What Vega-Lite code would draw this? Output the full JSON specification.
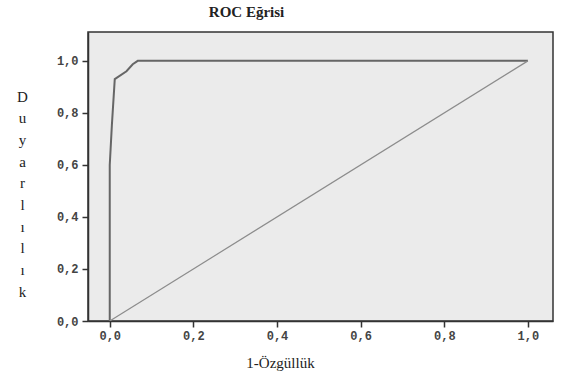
{
  "$schema": "https://vega.github.io/schema/vega-lite/v6.json",
  "autosize": {"type": "none"},
  "padding": {"left": 88, "top": 32, "right": 15, "bottom": 56},
  "width": 465,
  "height": 289,
  "background": "white",
  "title": {
    "text": "ROC Eğrisi",
    "font": "Liberation Serif",
    "fontSize": 15,
    "fontWeight": "bold",
    "color": "#222",
    "anchor": "middle",
    "dx": -74,
    "offset": 12
  },
  "config": {
    "view": {"fill": "#ebebeb", "stroke": "#333", "strokeWidth": 1.5},
    "axis": {
      "grid": false,
      "domainColor": "#333",
      "domainWidth": 1.5,
      "tickColor": "#333",
      "tickSize": 6,
      "tickWidth": 1.5,
      "labelFont": "Liberation Mono",
      "labelFontSize": 12,
      "labelFontWeight": "bold",
      "labelColor": "#444",
      "titleFont": "Liberation Serif",
      "titleFontSize": 15,
      "titleFontWeight": "normal",
      "titleColor": "#222"
    }
  },
  "data": {
    "values": [
      {"x": 0, "y": 0, "s": "roc", "o": 1},
      {"x": 0, "y": 0.6, "s": "roc", "o": 2},
      {"x": 0.005, "y": 0.75, "s": "roc", "o": 3},
      {"x": 0.012, "y": 0.93, "s": "roc", "o": 4},
      {"x": 0.04, "y": 0.96, "s": "roc", "o": 5},
      {"x": 0.055, "y": 0.987, "s": "roc", "o": 6},
      {"x": 0.067, "y": 1.0, "s": "roc", "o": 7},
      {"x": 1.0, "y": 1.0, "s": "roc", "o": 8},
      {"x": 0, "y": 0, "s": "ref", "o": 1},
      {"x": 1, "y": 1, "s": "ref", "o": 2}
    ]
  },
  "mark": {"type": "line", "clip": true},
  "encoding": {
    "x": {
      "field": "x",
      "type": "quantitative",
      "scale": {"domain": [-0.052, 1.06], "nice": false, "zero": false},
      "axis": {
        "values": [0, 0.2, 0.4, 0.6, 0.8, 1.0],
        "labelExpr": "replace(format(datum.value, '.1f'), '.', ',')",
        "labelPadding": 3,
        "title": "1-Özgüllük",
        "titleX": 192,
        "titleY": 34,
        "titleBaseline": "top",
        "titleAnchor": null
      }
    },
    "y": {
      "field": "y",
      "type": "quantitative",
      "scale": {"domain": [0, 1.111], "nice": false},
      "axis": {
        "values": [0, 0.2, 0.4, 0.6, 0.8, 1.0],
        "labelExpr": "replace(format(datum.value, '.1f'), '.', ',')",
        "labelPadding": 4,
        "title": ["D", "u", "y", "a", "r", "l", "ı", "l", "ı", "k"],
        "titleAngle": 0,
        "titleAlign": "center",
        "titleBaseline": "top",
        "titleX": -66,
        "titleY": 57,
        "titleLineHeight": 21.7
      }
    },
    "detail": {"field": "s"},
    "order": {"field": "o"},
    "color": {
      "field": "s",
      "type": "nominal",
      "scale": {"domain": ["roc", "ref"], "range": ["#666666", "#8c8c8c"]},
      "legend": null
    },
    "strokeWidth": {
      "field": "s",
      "type": "nominal",
      "scale": {"domain": ["roc", "ref"], "range": [2, 1.2]},
      "legend": null
    }
  }
}
